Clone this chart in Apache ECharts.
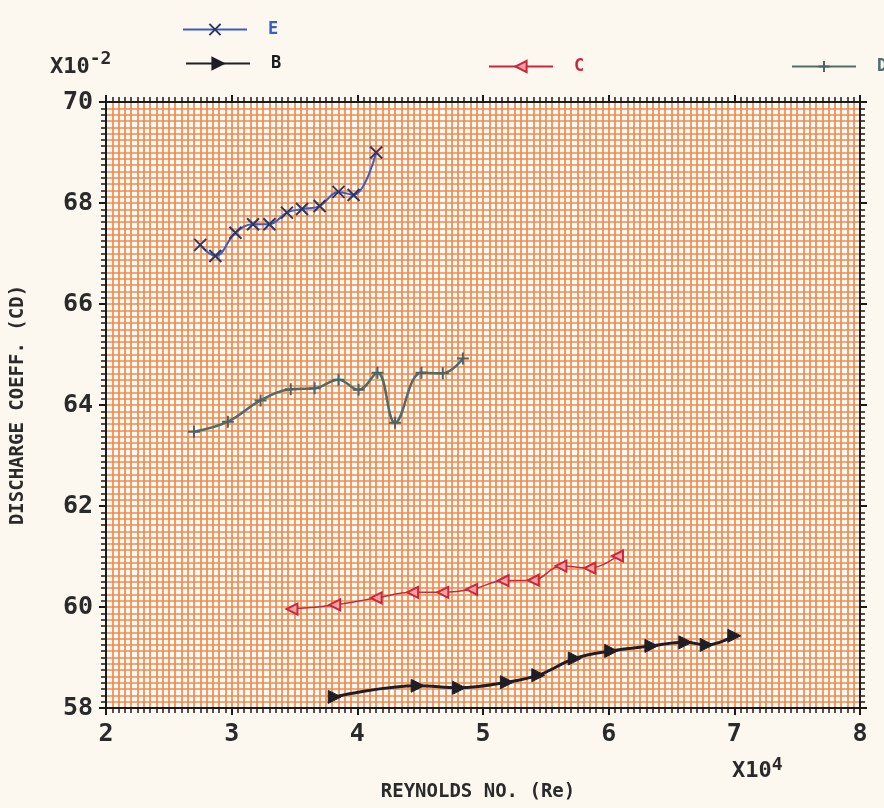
<!DOCTYPE html>
<html>
<head>
<meta charset="utf-8">
<script src="https://cdn.jsdelivr.net/npm/echarts@6/dist/echarts.min.js"></script>
<style>
  html, body { margin: 0; padding: 0; background: #fcf8ef; }
  #main { width: 884px; height: 808px; }
</style>
</head>
<body>
<div id="main"></div>
<script type="text/javascript">
    // 数据 (x: Re x10^4, y: Cd x10^-2)
    var xE = [2.75, 2.87, 3.03, 3.17, 3.30, 3.44, 3.56, 3.70, 3.85, 3.97, 4.15];
    var yE = [67.17, 66.95, 67.41, 67.58, 67.58, 67.81, 67.88, 67.94, 68.22, 68.16, 69.00];

    var xB = [3.82, 4.48, 4.81, 5.19, 5.44, 5.73, 6.02, 6.34, 6.61, 6.78, 7.00];
    var yB = [58.22, 58.44, 58.40, 58.51, 58.65, 58.98, 59.13, 59.23, 59.30, 59.25, 59.43];

    var xC = [3.48, 3.82, 4.15, 4.44, 4.68, 4.91, 5.16, 5.40, 5.62, 5.85, 6.07];
    var yC = [59.96, 60.04, 60.18, 60.29, 60.29, 60.35, 60.52, 60.53, 60.81, 60.77, 61.01];

    var xD = [2.70, 2.97, 3.23, 3.47, 3.66, 3.85, 4.01, 4.16, 4.30, 4.51, 4.68, 4.84];
    var yD = [63.47, 63.67, 64.09, 64.31, 64.33, 64.50, 64.30, 64.64, 63.65, 64.64, 64.63, 64.92];

    var xTicks = [2, 3, 4, 5, 6, 7, 8];
    var yTicks = [58, 60, 62, 64, 66, 68, 70];

    function pairs(xs, ys) {
        return xs.map(function (x, i) { return [x, ys[i]]; });
    }

    var FONT = 'DejaVu Sans Mono';
    var gridColor = '#f08a4e';

    var myChart = echarts.init(document.getElementById('main'));

    function axisCommon(min, max, interval, minorSplit, showLabel) {
        return {
            type: 'value',
            min: min,
            max: max,
            interval: interval,
            axisLine: { show: true, lineStyle: { color: '#1a1a1a', width: 2 } },
            axisTick: { show: true, length: 7, lineStyle: { color: '#1a1a1a', width: 2 } },
            minorTick: { show: true, splitNumber: minorSplit, length: 5, lineStyle: { color: '#1a1a1a', width: 1.5 } },
            splitLine: { show: showLabel, lineStyle: { color: gridColor, width: 1.7 } },
            minorSplitLine: { show: showLabel, lineStyle: { color: gridColor, width: 1.7 } },
            axisLabel: {
                show: showLabel,
                fontFamily: FONT,
                fontWeight: 'bold',
                fontSize: 25,
                color: '#2a2a2a'
            }
        };
    }

    var xBottom = axisCommon(2, 8, 1, 20, true);
    xBottom.position = 'bottom';
    xBottom.axisLabel.margin = 14;
    xBottom.name = 'REYNOLDS NO. (Re)';
    xBottom.nameLocation = 'middle';
    xBottom.nameGap = 75;
    xBottom.nameTextStyle = { fontFamily: FONT, fontWeight: 'bold', fontSize: 19, color: '#2a2a2a', padding: [0, 0, 0, -10] };
    var xTop = axisCommon(2, 8, 1, 20, false);
    xTop.position = 'top';

    var yLeft = axisCommon(58, 70, 2, 16, true);
    yLeft.position = 'left';
    yLeft.axisLabel.margin = 13;
    yLeft.name = 'DISCHARGE COEFF. (CD)';
    yLeft.nameLocation = 'middle';
    yLeft.nameGap = 78;
    yLeft.nameTextStyle = { fontFamily: FONT, fontWeight: 'bold', fontSize: 19, color: '#2a2a2a' };
    var yRight = axisCommon(58, 70, 2, 16, false);
    yRight.position = 'right';

    var symX = 'path://M0,0L10,10M10,0L0,10';
    var symPlus = 'path://M5,0L5,10M0,5L10,5';
    var symRight = 'path://M0,0L10,5L0,10Z';
    var symLeft = 'path://M10,0L0,5L10,10Z';

    function legendAt(name, left, top, color) {
        return {
            data: [name],
            left: left,
            top: top,
            itemWidth: 64,
            itemHeight: 14,
            selectedMode: false,
            textStyle: { color: color, fontFamily: FONT, fontWeight: 'bold', fontSize: 17, padding: [0, 0, 0, 16] }
        };
    }

    var option = {
        backgroundColor: '#fcf8ef',
        animation: false,
        grid: { left: 106, top: 102, width: 754, height: 606, backgroundColor: '#fffbf4', show: true, borderWidth: 0 },
        legend: [
            legendAt('E', 177, 16, '#3a5cc4'),
            legendAt('B', 180, 50, '#1a1a1a'),
            legendAt('C', 483, 53, '#c8283c'),
            legendAt('D', 786, 53, '#4d6e68')
        ],
        graphic: [
            {
                type: 'text', left: 50, top: 50,
                style: {
                    text: '{b|X10}{s|-2}',
                    rich: {
                        b: { fontFamily: FONT, fontWeight: 'bold', fontSize: 22, fill: '#2a2a2a', verticalAlign: 'bottom' },
                        s: { fontFamily: FONT, fontWeight: 'bold', fontSize: 18, fill: '#2a2a2a', verticalAlign: 'top', padding: [0, 0, 10, 0] }
                    }
                }
            },
            {
                type: 'text', left: 732, top: 756,
                style: {
                    text: '{b|X10}{s|4}',
                    rich: {
                        b: { fontFamily: FONT, fontWeight: 'bold', fontSize: 22, fill: '#2a2a2a' },
                        s: { fontFamily: FONT, fontWeight: 'bold', fontSize: 18, fill: '#2a2a2a', padding: [0, 0, 12, 0] }
                    }
                }
            }
        ],
        xAxis: [xBottom, xTop],
        yAxis: [yLeft, yRight],
        series: [
            {
                name: 'E', type: 'line', smooth: 0.4,
                data: pairs(xE, yE),
                symbol: symX, symbolSize: 12,
                lineStyle: { color: '#3a5cc4', width: 2 },
                itemStyle: { color: 'transparent', borderColor: '#2b3866', borderWidth: 2 }
            },
            {
                name: 'B', type: 'line', smooth: 0.4,
                data: pairs(xB, yB),
                symbol: symRight, symbolSize: 13,
                lineStyle: { color: '#1e1e24', width: 3 },
                itemStyle: { color: '#1e1e24', borderColor: '#1e1e24', borderWidth: 1 }
            },
            {
                name: 'C', type: 'line', smooth: 0.4,
                data: pairs(xC, yC),
                symbol: symLeft, symbolSize: 11,
                lineStyle: { color: '#c8283c', width: 1.5 },
                itemStyle: { color: '#f2a0a0', borderColor: '#c8283c', borderWidth: 2 }
            },
            {
                name: 'D', type: 'line', smooth: 0.4,
                data: pairs(xD, yD),
                symbol: symPlus, symbolSize: 12,
                lineStyle: { color: '#4d6e68', width: 2.5 },
                itemStyle: { color: 'transparent', borderColor: '#4d6466', borderWidth: 2 }
            }
        ]
    };

    myChart.setOption(option);
</script>
</body>
</html>
